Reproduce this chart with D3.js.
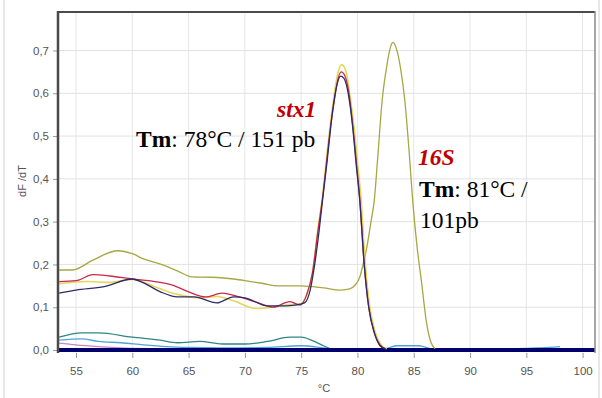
<!DOCTYPE html>
<html>
<head>
<meta charset="utf-8">
<script src="https://cdn.jsdelivr.net/npm/d3@7"></script>
<style>
  body { margin: 0; background: #fff; }
  svg { display: block; }
</style>
</head>
<body>
<div id="chart"></div>
<script>
// melting curve data, [temperature °C, dF/dT]
var xTicks = [55, 60, 65, 70, 75, 80, 85, 90, 95, 100];
var yTicks = [0, 0.1, 0.2, 0.3, 0.4, 0.5, 0.6, 0.7];

var olive16S = [[53.5,0.187],[54.7,0.187],[56.5,0.21],[58.7,0.232],[60,0.225],[61,0.213],[62.7,0.199],[64,0.185],[65.3,0.171],[67,0.17],[69,0.166],[70.5,0.16],[71.5,0.156],[73,0.15],[75,0.15],[77,0.145],[78.4,0.14],[79.3,0.143],[79.8,0.152],[80.2,0.17],[80.5,0.2],[80.9,0.25],[81.2,0.3],[81.5,0.351],[81.8,0.45],[82.2,0.585],[82.6,0.663],[82.9,0.705],[83.15,0.719],[83.45,0.705],[83.8,0.663],[84.2,0.585],[84.6,0.46],[84.9,0.351],[85.3,0.24],[85.7,0.157],[86.1,0.07],[86.5,0.02],[86.9,0.003]];

var yellowStx = [[53.5,0.155],[56,0.16],[58,0.158],[60,0.165],[62,0.148],[64,0.13],[66,0.122],[67.5,0.125],[69,0.115],[71,0.097],[72.5,0.1],[74,0.106],[75,0.108],[75.5,0.13],[76,0.18],[76.5,0.285],[76.9,0.36],[77.3,0.46],[77.6,0.53],[77.9,0.59],[78.2,0.64],[78.6,0.667],[79,0.65],[79.3,0.6],[79.7,0.52],[80,0.44],[80.3,0.36],[80.7,0.2],[81.1,0.1],[81.6,0.04],[82.1,0.012],[82.6,0.003]];

var redStx = [[53.5,0.16],[55,0.162],[56.5,0.176],[58,0.173],[60,0.166],[62,0.16],[63.5,0.152],[65,0.136],[66.5,0.124],[68,0.133],[69.5,0.124],[71,0.112],[72.5,0.1],[74,0.113],[74.9,0.105],[75.5,0.13],[76,0.18],[76.5,0.28],[76.9,0.355],[77.3,0.45],[77.6,0.52],[77.9,0.575],[78.2,0.625],[78.55,0.65],[78.9,0.64],[79.3,0.59],[79.6,0.52],[79.9,0.44],[80.2,0.355],[80.6,0.2],[81,0.1],[81.5,0.04],[82,0.012],[82.5,0.003]];

var navyStx = [[53.5,0.133],[55,0.14],[57.5,0.148],[60,0.166],[61,0.157],[62.5,0.136],[64,0.124],[65.5,0.124],[67.5,0.11],[69,0.124],[70,0.122],[72,0.103],[73,0.103],[74.5,0.105],[75.3,0.11],[75.8,0.14],[76.2,0.2],[76.6,0.28],[76.9,0.351],[77.3,0.44],[77.6,0.515],[77.8,0.56],[78.1,0.61],[78.5,0.64],[78.8,0.635],[79.3,0.58],[79.6,0.515],[79.9,0.43],[80.2,0.351],[80.6,0.2],[81,0.1],[81.5,0.04],[82,0.01],[82.5,0.002]];

var tealLow = [[53.5,0.03],[55.5,0.04],[57,0.04],[60,0.03],[62.5,0.023],[64,0.017],[66,0.02],[68,0.014],[70,0.014],[72,0.02],[74,0.03],[75,0.03],[76,0.022],[77,0.01],[77.6,0.003],[78,0.001]];

var blueLow = [[53.5,0.023],[55.5,0.026],[57,0.02],[59,0.017],[61,0.012],[63,0.008],[65,0.006],[68,0.005],[72,0.006],[75,0.01],[77,0.005],[78,0.002],[82.5,0.004],[83.5,0.01],[85.5,0.01],[86.5,0.003],[90,0.002],[95,0.004],[97,0.006],[98,0.008]];

var pinkLow = [[53.5,0.016],[55,0.012],[57,0.008],[59,0.005],[62,0.003],[65,0.002]];

var flatLine = [[53.4,0],[101.1,0]];

var width = 602, height = 398;

var svg = d3.select("#chart").append("svg")
    .attr("width", width)
    .attr("height", height);

var x = d3.scaleLinear().domain([53.4, 101.1]).range([58, 595]);
var y = d3.scaleLinear().domain([-0.007, 0.79]).range([353, 12]);

// outer picture border
svg.append("line").attr("x1",4).attr("x2",4).attr("y1",0).attr("y2",398)
  .style("stroke","#d0d0d0").style("stroke-width",1);
svg.append("line").attr("x1",599).attr("x2",599).attr("y1",0).attr("y2",398)
  .style("stroke","#d0d0d0").style("stroke-width",1);

// grid
svg.selectAll(".gx").data(xTicks).enter().append("line")
  .attr("x1", function(d){ return x(d); }).attr("x2", function(d){ return x(d); })
  .attr("y1", 12).attr("y2", 353)
  .style("stroke","#e6e6e6").style("stroke-width",1);
svg.selectAll(".gy").data(yTicks).enter().append("line")
  .attr("x1", 58).attr("x2", 595)
  .attr("y1", function(d){ return y(d); }).attr("y2", function(d){ return y(d); })
  .style("stroke","#e2e2e2").style("stroke-width",1);

// axes
var yAxis = svg.append("g")
  .attr("transform","translate(58,0)")
  .call(d3.axisLeft(y).tickValues(yTicks).tickSize(5).tickPadding(4)
    .tickFormat(function(d){ return d3.format(".1f")(d).replace(".", ","); }));
var xAxis = svg.append("g")
  .attr("transform","translate(0,353)")
  .call(d3.axisBottom(x).tickValues(xTicks).tickSize(5).tickPadding(9));

[yAxis, xAxis].forEach(function(a){
  a.select(".domain").remove();
  a.selectAll("line").style("stroke","#9a9a9a");
  a.selectAll("text")
    .style("font-family","Liberation Sans")
    .style("font-size","11.5px")
    .style("fill","#555");
});

svg.append("text")
  .attr("x", 324).attr("y", 392)
  .attr("text-anchor","middle")
  .text("°C")
  .style("font-family","Liberation Sans")
  .style("font-size","11px")
  .style("fill","#555");

svg.append("text")
  .attr("transform","translate(26,181) rotate(-90)")
  .attr("text-anchor","middle")
  .text("dF /dT")
  .style("font-family","Liberation Sans")
  .style("font-size","11px")
  .style("fill","#555");

// curves
var line = d3.line()
  .x(function(d){ return x(d[0]); })
  .y(function(d){ return y(d[1]); })
  .curve(d3.curveMonotoneX);

var series = [
  {data: pinkLow,   color: "#c784c7", w: 1.2},
  {data: blueLow,   color: "#4ea3d8", w: 1.3},
  {data: tealLow,   color: "#2f8585", w: 1.3},
  {data: flatLine,  color: "#00006e", w: 4},
  {data: olive16S,  color: "#a7a744", w: 1.3},
  {data: yellowStx, color: "#e3d85c", w: 1.6},
  {data: redStx,    color: "#c8284a", w: 1.3},
  {data: navyStx,   color: "#2c2c6c", w: 1.3}
];

svg.selectAll(".curve").data(series).enter().append("path")
  .attr("class","curve")
  .attr("d", function(d){ return line(d.data); })
  .style("fill","none")
  .style("stroke", function(d){ return d.color; })
  .style("stroke-width", function(d){ return d.w; });

// plot frame
svg.append("line").attr("x1",58).attr("x2",58).attr("y1",11).attr("y2",353)
  .style("stroke","#4a4a4a").style("stroke-width",2.5);
svg.append("line").attr("x1",57).attr("x2",595).attr("y1",12).attr("y2",12)
  .style("stroke","#4a4a4a").style("stroke-width",2);
svg.append("line").attr("x1",595).attr("x2",595).attr("y1",11).attr("y2",353)
  .style("stroke","#8a8a8a").style("stroke-width",1.5);

// annotations
function label(xp, yp, parts){
  var t = svg.append("text").attr("x", xp).attr("y", yp)
    .style("font-family","Liberation Serif")
    .style("font-size","23.5px");
  parts.forEach(function(p){
    t.append("tspan").text(p.s)
      .style("font-weight", p.b ? "bold" : "normal")
      .style("font-style", p.i ? "italic" : "normal")
      .style("fill", p.c || "#000");
  });
}
label(277, 117, [{s:"stx1", b:true, i:true, c:"#c00000"}]);
label(136, 147, [{s:"Tm", b:true}, {s:": 78°C / 151 pb"}]);
label(418, 165, [{s:"16S", b:true, i:true, c:"#c00000"}]);
label(419, 197, [{s:"Tm", b:true}, {s:": 81°C /"}]);
label(420, 228, [{s:"101pb"}]);
</script>
</body>
</html>
